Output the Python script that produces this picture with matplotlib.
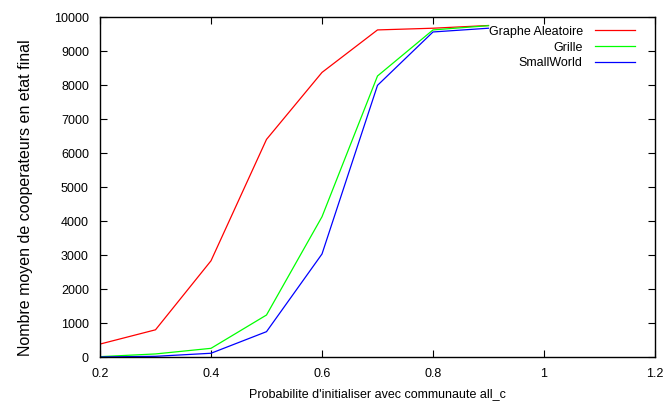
#!/usr/bin/env python
# Nombre moyen de cooperateurs en etat final selon la probabilite initiale
import matplotlib
matplotlib.use('Agg')
import matplotlib.pyplot as plt

prob = [0.2, 0.3, 0.4, 0.5, 0.6, 0.7, 0.8, 0.9]
aleatoire = [380, 800, 2830, 6400, 8370, 9620, 9670, 9750]
grille = [10, 90, 255, 1235, 4125, 8265, 9620, 9745]
smallworld = [0, 20, 110, 745, 3030, 7990, 9560, 9670]

xticks = [0.2, 0.4, 0.6, 0.8, 1, 1.2]
xticklabels = ['0.2', '0.4', '0.6', '0.8', '1', '1.2']
yticks = list(range(0, 10001, 1000))

plt.rcParams['font.family'] = ['Liberation Sans', 'DejaVu Sans']
plt.rcParams['font.size'] = 9

fig = plt.figure(figsize=(6.64, 4.05), dpi=100)
ax = fig.add_axes([100/664, 1-357/405, 555/664, 340/405])

ax.plot(prob, aleatoire, color='#ff0000', lw=0.9, label='Graphe Aleatoire')
ax.plot(prob, grille, color='#00ff00', lw=0.9, label='Grille')
ax.plot(prob, smallworld, color='#0000ff', lw=0.9, label='SmallWorld')

ax.set_xlim(0.2, 1.2)
ax.set_ylim(0, 10000)
ax.set_xticks(xticks)
ax.set_xticklabels(xticklabels)
ax.set_yticks(yticks)
ax.tick_params(direction='in', top=True, right=True, length=5, width=0.8, pad=8)
for s in ax.spines.values():
    s.set_linewidth(1.0)

ax.set_xlabel('Probabilite d\'initialiser avec communaute all_c', labelpad=6)
ax.set_ylabel('Nombre moyen de cooperateurs en etat final', fontsize=11.5)
ax.yaxis.set_label_coords(-0.12, 0.47)

ax.legend(loc='upper right', frameon=False, markerfirst=False, handlelength=3.2,
          labelspacing=0.3, borderaxespad=0.3, handletextpad=1.0,
          bbox_to_anchor=(0.98, 1.0))

fig.savefig('out.png', dpi=100)
